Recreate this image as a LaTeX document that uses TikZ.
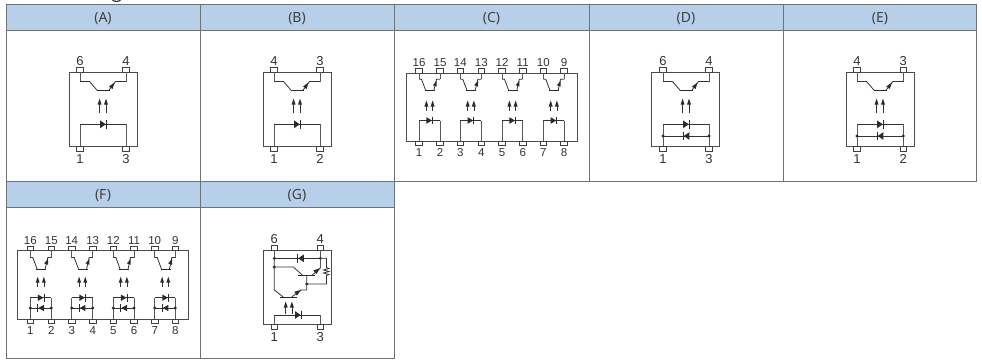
\documentclass[tikz,border=0pt]{standalone}
\usepackage{fontspec}
\setmainfont{Liberation Sans}
\newfontfamily\hdfont{Noto Sans}
\definecolor{hdblue}{HTML}{B8CFEA}
\definecolor{rule}{HTML}{6E7378}
\definecolor{ink}{HTML}{2A2A2A}
\tikzset{
  x=1pt,y=-1pt,
  cellline/.style={draw=rule,line width=1pt},
  head/.style={font=\hdfont\fontsize{14}{16}\selectfont,text=black!75,inner sep=0pt,anchor=center},
  hfill/.style={fill=hdblue,draw=none},
  wire/.style={draw=black!80,line width=0.8pt,line join=miter},
  grey/.style={draw=black!65,line width=0.85pt},
  body/.style={draw=black!70,line width=0.85pt},
  pinbox/.style={draw=black!75,fill=white,line width=0.7pt},
  pinlab/.style={font=\fontsize{13}{14}\selectfont,text=black!80,inner sep=0pt,anchor=center},
  pinsmall/.style={font=\fontsize{11.5}{14}\selectfont,text=black!80,inner sep=0pt,anchor=center},
}
\newcommand{\pinb}[3]{\draw[pinbox] (#1-3.3,#2) rectangle (#1+3.3,#3);}
\newcommand{\lab}[3]{\node[pinlab] at (#1,#2) {#3};}
\newcommand{\labs}[3]{\node[pinsmall] at (#1,#2) {#3};}
\newcommand{\upar}[3]{% x, ytip, ybottom
  \draw[wire] (#1,#2+3) -- (#1,#3);
  \fill[ink] (#1,#2) -- (#1+2,#2+6) -- (#1-2,#2+6) -- cycle;}
\newcommand{\dio}[3]{% x(start of triangle), y, half height : points right
  \fill[ink] (#1,#2-#3) -- (#1+5.6,#2) -- (#1,#2+#3) -- cycle;
  \draw[ink,line width=0.9pt] (#1+6.1,#2-#3-0.6) -- (#1+6.1,#2+#3+0.6);}
\newcommand{\diol}[3]{% x(bar), y, half height : points left
  \fill[ink] (#1+6.1,#2-#3) -- (#1+0.5,#2) -- (#1+6.1,#2+#3) -- cycle;
  \draw[ink,line width=0.9pt] (#1,#2-#3-0.6) -- (#1,#2+#3+0.6);}
\newcommand{\dotat}[2]{\fill[ink] (#1,#2) circle (1.6);}
% transistor: xl xr ytop ybend ybar inset barL barR
\newcommand{\trans}[8]{%
  \draw[grey] (#1,#3) -- (#1,#4);
  \draw[grey] (#2,#3) -- (#2,#4);
  \draw[wire] (#1,#4) -- (#1+#6,#4) -- (#7+0.8,#5);
  \draw[draw=ink,line width=1pt] (#7,#5) -- (#8,#5);
  \draw[wire] (#2,#4) -- (#2-#6-1,#4) -- (#8-1.2,#5);
}
\newcommand{\single}[5]{%
  \draw[body] (#1,72) rectangle (#1+68.2,146.4);
  \pinb{#2}{67.7}{72}\pinb{#3}{67.7}{72}
  \pinb{#2}{146.4}{151}\pinb{#3}{146.4}{151}
  \lab{#2}{61.3}{#4}\lab{#3}{61.3}{#5}
  \trans{#2}{#3}{72}{81.5}{90.5}{9.5}{#2+16.5}{#2+30}
  \fill[ink] (#3-11.5,82.5) -- (#3-13.4,89) -- (#3-17,86.5) -- cycle;
  \upar{#2+19.6}{98.6}{112.7}\upar{#2+26}{98.6}{112.7}
}
\newcommand{\oneLED}[2]{%
  \draw[grey] (#1,146.4) -- (#1,124.3);
  \draw[grey] (#2,146.4) -- (#2,124.3);
  \draw[wire] (#1,124.3) -- (#2,124.3);
  \dio{#1+20.2}{124.3}{3.8}}
\newcommand{\twoLED}[2]{%
  \draw[grey] (#1,146.4) -- (#1,124.3);
  \draw[grey] (#2,146.4) -- (#2,124.3);
  \draw[wire] (#1,124.3) -- (#2,124.3);
  \draw[wire] (#1,136) -- (#2,136);
  \dio{#1+20.2}{124.3}{3.8}\diol{#1+20.2}{136}{3.8}
  \dotat{#1}{136}\dotat{#2}{136}}
\newcommand{\quadtop}[7]{% xl xr ytop ybend ybar yaTip yaBot
  \pinb{#1}{#3-4.2}{#3}\pinb{#2}{#3-4.2}{#3}
  \trans{#1}{#2}{#3}{#4}{#5}{2.5}{#1+6}{#1+16}
  \fill[ink] (#2-3.3,#4+1.5) -- (#2-3.3,#4+7.3) -- (#2-7.1,#4+5.9) -- cycle;
  \upar{#1+7.4}{#6}{#7}\upar{#1+13.6}{#6}{#7}}
\begin{document}
\begin{tikzpicture}
\useasboundingbox (0,0) rectangle (982,360);
\fill[white] (0,0) rectangle (982,360);
\fill[hfill] (6,4) rectangle (976,30);
\fill[hfill] (6,181.5) rectangle (394,207.7);
\draw[cellline] (6,4) -- (976,4);
\draw[cellline] (6,30) -- (976,30);
\draw[cellline] (6,181.5) -- (976,181.5);
\draw[cellline] (6,207.7) -- (394,207.7);
\draw[cellline] (6,358.6) -- (394,358.6);
\foreach \vx in {6,200,394} \draw[cellline] (\vx,4) -- (\vx,358.6);
\foreach \vx in {589,783,976} \draw[cellline] (\vx,4) -- (\vx,181.5);
% clipped title descender
\draw[ink,line width=1.1pt] (112.5,0.2) .. controls (114.5,1.8) and (118.5,1.8) .. (120.5,0.2);
\node[head] (ha) at (103,18.5) {(A)};
\node[head] (hb) at (297,18.5) {(B)};
\node[head] (hc) at (491.5,18.5) {(C)};
\node[head] (hd) at (686,18.5) {(D)};
\node[head] (he) at (880,18.5) {(E)};
\node[head] (hf) at (103,196) {(F)};
\node[head] (hg) at (297,196) {(G)};
\single{69}{80}{126}{6}{4}\oneLED{80}{126}\lab{80}{158.7}{1}\lab{126}{158.7}{3}
\single{263.3}{274}{320}{4}{3}\oneLED{274}{320}\lab{274}{158.7}{1}\lab{320}{158.7}{2}
\single{651.7}{663}{709}{6}{4}\twoLED{663}{709}\lab{663}{158.7}{1}\lab{709}{158.7}{3}
\single{846}{857}{903.3}{4}{3}\twoLED{857}{903.3}\lab{857}{158.7}{1}\lab{903.3}{158.7}{2}
% C
\draw[body] (406.7,73) rectangle (577,141.3);
\foreach \xa/\xb/\ta/\tb/\ba/\bb in {419/440/16/15/1/2,460.3/481.3/14/13/3/4,502/522.7/12/11/5/6,543.3/564/10/9/7/8}{
  \quadtop{\xa}{\xb}{73}{79.3}{90.7}{100.5}{110.5}
  \pinb{\xa}{141.3}{145.6}\pinb{\xb}{141.3}{145.6}
  \draw[grey] (\xa,141.3) -- (\xa,120.5);
  \draw[grey] (\xb,141.3) -- (\xb,120.5);
  \draw[wire] (\xa,120.5) -- (\xb,120.5);
  \dio{\xa+7.3}{120.5}{3.3}
  \labs{\xa}{62.7}{\ta}\labs{\xb}{62.7}{\tb}
  \labs{\xa}{152.3}{\ba}\labs{\xb}{152.3}{\bb}
}
% F
\draw[body] (17.7,250.7) rectangle (188.3,319);
\foreach \xa/\xb/\ta/\tb/\ba/\bb in {30.3/51.3/16/15/1/2,71.7/92.7/14/13/3/4,113.3/134/12/11/5/6,154.7/175.3/10/9/7/8}{
  \quadtop{\xa}{\xb}{250.7}{257.5}{269}{276.7}{287.3}
  \pinb{\xa}{319}{323.2}\pinb{\xb}{319}{323.2}
  \draw[grey] (\xa,319) -- (\xa,297.7);
  \draw[grey] (\xb,319) -- (\xb,297.7);
  \draw[wire] (\xa,297.7) -- (\xb,297.7);
  \draw[wire] (\xa,308) -- (\xb,308);
  \dio{\xa+7.6}{297.7}{3.2}\diol{\xa+7.6}{308}{3.2}
  \dotat{\xa}{308}\dotat{\xb}{308}
  \labs{\xa}{240.7}{\ta}\labs{\xb}{240.7}{\tb}
  \labs{\xa}{330.7}{\ba}\labs{\xb}{330.7}{\bb}
}
% G
\draw[body] (263.3,250) rectangle (331.3,324.3);
\pinb{274.3}{245.7}{250}\pinb{320.3}{245.7}{250}
\pinb{274.3}{324.3}{329}\pinb{320.3}{324.3}{329}
\lab{274.3}{239}{6}\lab{320.3}{239}{4}
\lab{274.3}{337}{1}\lab{320.3}{337}{3}
\draw[grey] (274.3,250) -- (274.3,258.3);
\draw[grey] (320.3,250) -- (320.3,268);
\draw[wire] (274.3,258.3) -- (320.3,258.3);
\diol{297.7}{258.3}{3.8}
\dotat{274.3}{258.3}\dotat{320.3}{258.3}\dotat{274.3}{267}
\draw[wire] (274.3,258.3) -- (274.3,290) -- (283.3,297);
\draw[wire] (274.3,267) -- (293.3,267) -- (302.3,275);
\draw[ink,line width=1pt] (298,275.5) -- (315,275.5);
\draw[wire] (311.7,275.5) -- (320.3,268);
\fill[ink] (320,268.2) -- (313.4,270.4) -- (316.4,274.2) -- cycle;
\draw[wire] (320.3,258.3) -- (326.5,258.3) -- (326.5,267.5) -- (329,268.5) -- (323.5,270) -- (329,271.5) -- (323.5,273) -- (329,274.5) -- (326.5,275.5) -- (326.5,284) -- (306.7,284);
\draw[wire] (306.7,275.5) -- (306.7,290) -- (301,290) -- (291.7,297);
\fill[ink] (300.8,290) -- (294.3,291.8) -- (297,295.6) -- cycle;
\dotat{306.7}{284}
\draw[ink,line width=1pt] (280,297.3) -- (296.7,297.3);
\upar{285.7}{301.5}{313.5}\upar{291.9}{301.5}{313.5}
\draw[grey] (274.3,324.3) -- (274.3,315);
\draw[grey] (320.3,324.3) -- (320.3,315);
\draw[wire] (274.3,315) -- (320.3,315);
\dio{295}{315}{3.8}
\end{tikzpicture}
\end{document}
